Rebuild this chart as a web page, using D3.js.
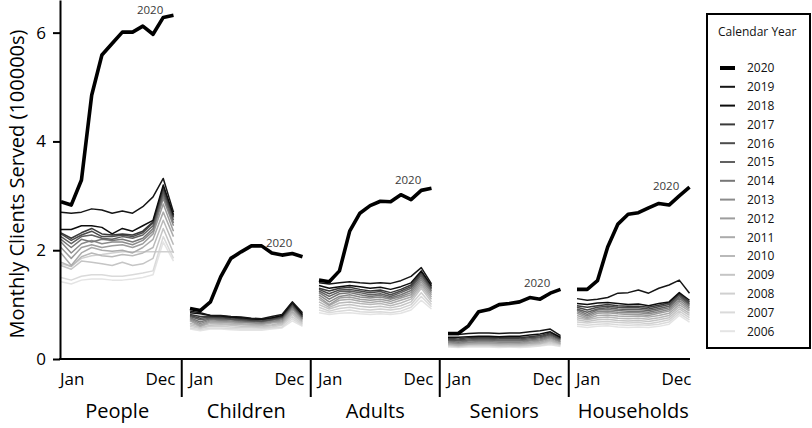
<!DOCTYPE html>
<html>
<head>
<meta charset="utf-8">
<script src="https://cdn.jsdelivr.net/npm/d3@7"></script>
<style>
  html, body { margin: 0; padding: 0; background: #fff; }
  svg { display: block; font-family: "Open Sans", sans-serif; }
</style>
</head>
<body>
<svg id="chart" width="812" height="428"></svg>
<script>
// ---------------- DATA ----------------
const months = ["Jan","Feb","Mar","Apr","May","Jun","Jul","Aug","Sep","Oct","Nov","Dec"];
const panels = ["People","Children","Adults","Seniors","Households"];
const years  = [2020,2019,2018,2017,2016,2015,2014,2013,2012,2011,2010,2009,2008,2007,2006];
const yTicks = [0,2,4,6];
const highlightYear = 2020;

// values in 100000s, one row per year (same order as `years`)
const people = [
  [2.89,2.83,3.29,4.85,5.59,5.80,6.01,6.01,6.12,5.97,6.28,6.32],
  [2.70,2.68,2.70,2.76,2.74,2.68,2.72,2.68,2.80,2.98,3.32,2.70],
  [2.38,2.38,2.45,2.45,2.42,2.30,2.40,2.35,2.45,2.55,3.20,2.65],
  [2.32,2.22,2.32,2.40,2.30,2.28,2.30,2.28,2.35,2.52,3.15,2.62],
  [2.30,2.18,2.28,2.35,2.25,2.25,2.28,2.25,2.32,2.50,3.10,2.60],
  [2.25,2.12,2.25,2.28,2.22,2.20,2.25,2.22,2.28,2.45,3.05,2.55],
  [2.20,2.05,2.20,2.15,2.20,2.18,2.20,2.15,2.22,2.40,3.00,2.50],
  [2.15,1.95,2.12,2.18,2.12,2.15,2.15,2.10,2.18,2.35,2.95,2.45],
  [2.05,1.85,2.05,2.10,2.05,2.08,2.10,2.05,2.12,2.30,2.85,2.35],
  [1.95,1.72,1.95,2.05,2.00,1.98,2.00,1.95,2.05,2.20,2.70,2.25],
  [1.78,1.70,1.88,1.95,1.90,1.88,1.92,1.90,1.95,2.05,2.55,2.10],
  [1.72,1.65,1.80,1.78,1.75,1.72,1.78,1.72,1.75,1.85,2.40,1.95],
  [1.75,1.70,1.85,1.90,1.92,1.95,1.97,1.97,1.97,1.97,1.97,1.97],
  [1.50,1.45,1.52,1.55,1.55,1.52,1.52,1.55,1.58,1.62,2.25,1.85],
  [1.42,1.38,1.45,1.47,1.47,1.45,1.45,1.47,1.50,1.55,2.15,1.80]
];
const children = [
  [0.93,0.89,1.05,1.51,1.85,1.97,2.08,2.08,1.95,1.91,1.94,1.88],
  [0.88,0.85,0.80,0.80,0.78,0.77,0.75,0.74,0.78,0.82,1.05,0.85],
  [0.85,0.83,0.80,0.79,0.77,0.76,0.74,0.73,0.76,0.80,1.04,0.82],
  [0.82,0.78,0.78,0.77,0.76,0.74,0.72,0.72,0.75,0.78,1.02,0.80],
  [0.80,0.75,0.77,0.76,0.74,0.73,0.71,0.70,0.73,0.77,1.00,0.78],
  [0.78,0.72,0.75,0.74,0.73,0.71,0.70,0.69,0.72,0.76,0.98,0.77],
  [0.76,0.68,0.74,0.72,0.72,0.70,0.69,0.68,0.71,0.74,0.96,0.76],
  [0.74,0.65,0.72,0.71,0.70,0.68,0.67,0.66,0.69,0.72,0.94,0.74],
  [0.72,0.62,0.70,0.69,0.68,0.67,0.66,0.65,0.68,0.70,0.92,0.73],
  [0.70,0.60,0.68,0.67,0.66,0.65,0.64,0.63,0.66,0.68,0.88,0.71],
  [0.66,0.60,0.65,0.65,0.64,0.63,0.62,0.61,0.63,0.66,0.85,0.69],
  [0.63,0.58,0.62,0.63,0.62,0.60,0.60,0.59,0.61,0.64,0.82,0.67],
  [0.60,0.56,0.60,0.60,0.59,0.58,0.58,0.57,0.59,0.62,0.78,0.64],
  [0.57,0.54,0.57,0.57,0.56,0.55,0.55,0.55,0.57,0.59,0.74,0.62],
  [0.55,0.52,0.55,0.55,0.54,0.53,0.53,0.53,0.55,0.57,0.70,0.60]
];
const adults = [
  [1.45,1.42,1.62,2.35,2.68,2.82,2.90,2.89,3.02,2.93,3.10,3.14],
  [1.40,1.38,1.40,1.42,1.40,1.39,1.40,1.39,1.44,1.52,1.68,1.38],
  [1.35,1.30,1.33,1.35,1.33,1.30,1.32,1.28,1.33,1.40,1.62,1.35],
  [1.30,1.25,1.30,1.32,1.28,1.25,1.27,1.22,1.28,1.36,1.60,1.33],
  [1.28,1.20,1.27,1.28,1.25,1.22,1.24,1.18,1.25,1.33,1.57,1.30],
  [1.25,1.15,1.24,1.25,1.22,1.18,1.20,1.15,1.22,1.30,1.54,1.28],
  [1.22,1.10,1.20,1.22,1.18,1.15,1.17,1.12,1.18,1.26,1.50,1.25],
  [1.18,1.05,1.15,1.18,1.14,1.12,1.14,1.10,1.15,1.22,1.46,1.22],
  [1.14,1.00,1.12,1.14,1.10,1.08,1.10,1.06,1.12,1.18,1.42,1.18],
  [1.10,0.98,1.08,1.10,1.06,1.04,1.06,1.02,1.08,1.14,1.38,1.14],
  [1.05,0.95,1.03,1.05,1.02,1.00,1.02,0.98,1.03,1.10,1.34,1.10],
  [1.00,0.92,0.98,1.00,0.97,0.95,0.97,0.94,0.98,1.05,1.30,1.05],
  [0.95,0.88,0.93,0.95,0.92,0.90,0.92,0.90,0.93,1.00,1.22,1.00],
  [0.90,0.85,0.88,0.90,0.87,0.86,0.87,0.85,0.88,0.95,1.15,0.96],
  [0.85,0.82,0.84,0.85,0.83,0.82,0.83,0.82,0.84,0.90,1.08,0.92]
];
const seniors = [
  [0.47,0.47,0.61,0.87,0.91,1.00,1.02,1.05,1.13,1.10,1.21,1.28],
  [0.45,0.45,0.47,0.48,0.48,0.47,0.48,0.48,0.50,0.52,0.55,0.43],
  [0.40,0.40,0.41,0.42,0.42,0.41,0.42,0.42,0.44,0.46,0.50,0.40],
  [0.38,0.37,0.39,0.40,0.40,0.39,0.39,0.39,0.41,0.43,0.48,0.39],
  [0.36,0.35,0.37,0.38,0.38,0.37,0.37,0.37,0.39,0.41,0.46,0.37],
  [0.35,0.33,0.35,0.36,0.36,0.35,0.35,0.35,0.37,0.39,0.44,0.36],
  [0.33,0.31,0.33,0.34,0.34,0.33,0.33,0.33,0.35,0.37,0.42,0.34],
  [0.31,0.29,0.31,0.32,0.32,0.31,0.31,0.31,0.33,0.35,0.40,0.32],
  [0.30,0.28,0.30,0.30,0.30,0.29,0.30,0.29,0.31,0.33,0.38,0.31],
  [0.28,0.26,0.28,0.29,0.29,0.28,0.28,0.28,0.29,0.31,0.36,0.29],
  [0.27,0.25,0.27,0.27,0.27,0.26,0.27,0.26,0.28,0.29,0.34,0.28],
  [0.26,0.24,0.26,0.26,0.26,0.25,0.25,0.25,0.26,0.28,0.32,0.27],
  [0.25,0.23,0.25,0.25,0.25,0.24,0.24,0.24,0.25,0.27,0.30,0.26],
  [0.24,0.22,0.24,0.24,0.24,0.23,0.23,0.23,0.24,0.25,0.28,0.25],
  [0.22,0.21,0.22,0.22,0.22,0.21,0.22,0.21,0.22,0.24,0.26,0.23]
];
const households = [
  [1.28,1.28,1.44,2.06,2.48,2.66,2.69,2.78,2.86,2.83,3.00,3.16],
  [1.11,1.08,1.10,1.13,1.21,1.22,1.27,1.21,1.30,1.36,1.45,1.21],
  [1.02,1.00,1.03,1.04,1.02,1.00,1.01,0.98,1.02,1.05,1.22,1.08],
  [0.98,0.95,0.98,1.00,0.98,0.97,0.97,0.95,0.99,1.03,1.20,1.05],
  [0.95,0.90,0.95,0.97,0.95,0.94,0.94,0.92,0.96,1.00,1.18,1.02],
  [0.92,0.86,0.92,0.94,0.92,0.91,0.91,0.89,0.93,0.97,1.15,1.00],
  [0.90,0.82,0.90,0.91,0.89,0.88,0.88,0.86,0.90,0.94,1.12,0.97],
  [0.87,0.79,0.87,0.88,0.86,0.85,0.85,0.83,0.87,0.91,1.08,0.94],
  [0.84,0.76,0.84,0.85,0.83,0.82,0.82,0.80,0.84,0.88,1.04,0.91],
  [0.80,0.74,0.80,0.81,0.79,0.78,0.79,0.77,0.80,0.84,1.00,0.88],
  [0.76,0.72,0.76,0.77,0.75,0.74,0.75,0.73,0.76,0.80,0.96,0.84],
  [0.72,0.69,0.72,0.73,0.71,0.70,0.71,0.69,0.72,0.76,0.92,0.80],
  [0.68,0.66,0.68,0.69,0.67,0.66,0.67,0.65,0.68,0.72,0.88,0.76],
  [0.64,0.62,0.64,0.65,0.63,0.62,0.63,0.62,0.64,0.68,0.84,0.72],
  [0.60,0.58,0.60,0.61,0.59,0.58,0.59,0.58,0.60,0.64,0.80,0.68]
];
const yearColors = ["#000000","#161616","#0d0d0d","#3a3a3a","#4c4c4c","#616161","#777777",
                    "#8b8b8b","#9d9d9d","#ababab","#b9b9b9","#c5c5c5","#d0d0d0","#dadada","#e4e4e4"];

const panelData = { People: people, Children: children, Adults: adults, Seniors: seniors, Households: households };

// ---------------- LAYOUT ----------------
const svg = d3.select("#chart");
const axisX0 = 60, axisX1 = 690, axisY = 359;

const y = d3.scaleLinear().domain([0, 6.6]).range([axisY, 0]);
const xPanel = d3.scaleBand().domain(panels).range([61, 689.5]).paddingInner(0.128).paddingOuter(0);
const xMonth = d3.scalePoint().domain(months).range([0, xPanel.bandwidth()]);
const color = d3.scaleOrdinal().domain(years).range(yearColors);

const line = d3.line()
  .x((d, i) => xMonth(months[i]))
  .y(d => y(d));

// lines per panel
panels.forEach(p => {
  const g = svg.append("g").attr("transform", `translate(${xPanel(p)},0)`);
  const rows = panelData[p].map((vals, i) => ({ year: years[i], vals }));
  // draw lightest first, 2020 last
  rows.slice().reverse().forEach(r => {
    g.append("path")
      .attr("d", line(r.vals))
      .attr("fill", "none")
      .attr("stroke", color(r.year))
      .attr("stroke-width", r.year === highlightYear ? 3.6 : 1.5)
      .attr("stroke-linejoin", "round");
  });
  const hl = rows.find(r => r.year === highlightYear);
  g.append("text")
    .attr("x", xMonth("Nov"))
    .attr("y", Math.max(y(hl.vals[10]) - 6, 14))
    .attr("text-anchor", "end")
    .attr("font-size", 11.5)
    .attr("fill", "#3a3a3a")
    .text(String(highlightYear));

  // Jan / Dec labels
  g.append("text")
    .attr("x", -1).attr("y", 385)
    .attr("font-size", 17).attr("fill", "#000")
    .text(months[0]);
  g.append("text")
    .attr("x", xPanel.bandwidth() + 2).attr("y", 385)
    .attr("text-anchor", "end")
    .attr("font-size", 17).attr("fill", "#000")
    .text(months[11]);
  // panel label
  g.append("text")
    .attr("x", xPanel.bandwidth() / 2).attr("y", 418)
    .attr("text-anchor", "middle")
    .attr("font-size", 20).attr("fill", "#000")
    .text(p);
});

// separators between panels
panels.slice(1).forEach(p => {
  const sx = xPanel(p) - (xPanel.step() - xPanel.bandwidth()) / 2;
  svg.append("line")
    .attr("x1", sx).attr("x2", sx)
    .attr("y1", axisY).attr("y2", 397)
    .attr("stroke", "#000").attr("stroke-width", 2);
});

// x axis baseline
svg.append("line")
  .attr("x1", axisX0 - 1).attr("x2", axisX1)
  .attr("y1", axisY).attr("y2", axisY)
  .attr("stroke", "#000").attr("stroke-width", 2);

// y axis
const yAxis = svg.append("g")
  .attr("transform", `translate(${axisX0},0)`)
  .call(d3.axisLeft(y).tickValues(yTicks).tickFormat(d3.format("d")).tickSize(7).tickSizeOuter(0).tickPadding(7));
yAxis.select(".domain").attr("stroke", "#000").attr("stroke-width", 2);
yAxis.selectAll(".tick line").attr("stroke", "#000").attr("stroke-width", 2);
yAxis.selectAll(".tick text")
  .attr("font-size", 17).attr("font-family", "Open Sans, sans-serif").attr("fill", "#000");

// y title
svg.append("text")
  .attr("transform", "translate(24,184) rotate(-90)")
  .attr("text-anchor", "middle")
  .attr("font-size", 20).attr("fill", "#000")
  .text("Monthly Clients Served (100000s)");

// ---------------- LEGEND ----------------
const lg = svg.append("g");
lg.append("rect")
  .attr("x", 707).attr("y", 14).attr("width", 103).attr("height", 334)
  .attr("fill", "#fff").attr("stroke", "#000").attr("stroke-width", 2);
lg.append("text")
  .attr("x", 718).attr("y", 36)
  .attr("font-size", 12).attr("fill", "#111")
  .text("Calendar Year");
years.forEach((yr, i) => {
  const cy = 68 + i * 18.8;
  lg.append("line")
    .attr("x1", 720).attr("x2", 735).attr("y1", cy).attr("y2", cy)
    .attr("stroke", color(yr))
    .attr("stroke-width", yr === highlightYear ? 4 : 2);
  lg.append("text")
    .attr("x", 747).attr("y", cy + 4.3)
    .attr("font-size", 12).attr("fill", "#111")
    .text(String(yr));
});
</script>
</body>
</html>
